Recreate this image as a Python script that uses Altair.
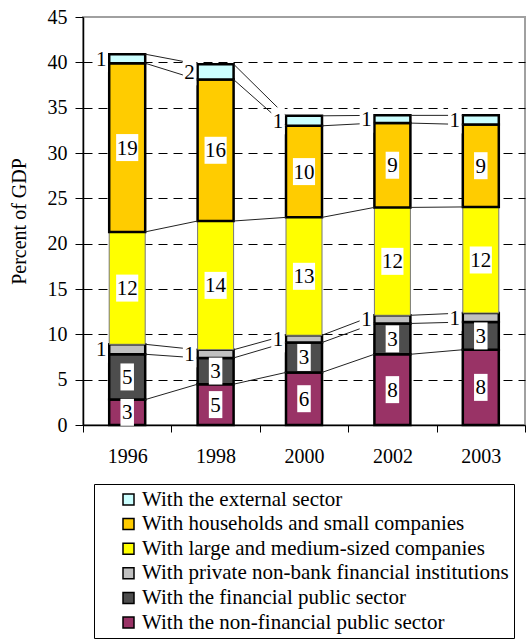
import altair as alt
import numpy as np
import pandas as pd

years = ["1996", "1998", "2000", "2002", "2003"]

# stacking order, bottom to top
series = [
    "With the non-financial public sector",
    "With the financial public sector",
    "With private non-bank financial institutions",
    "With large and medium-sized companies",
    "With households and small companies",
    "With the external sector",
]
colors = ["#993366", "#4d4d4d", "#c0c0c0", "#ffff00", "#ffcc00", "#ccffff"]

# percent of GDP, one list per series (same order as years)
nonfin_public = [2.8, 4.5, 5.8, 7.8, 8.3]
fin_public = [5.0, 2.9, 3.3, 3.4, 3.05]
private_nonbank = [1.1, 0.9, 0.8, 0.9, 1.0]
large_medium = [12.4, 14.2, 13.0, 11.9, 11.7]
households = [18.6, 15.6, 10.1, 9.3, 9.1]
external = [1.0, 1.7, 1.1, 0.85, 1.0]

values = [nonfin_public, fin_public, private_nonbank, large_medium, households, external]

# series whose value labels sit beside the bar instead of inside it
outside = [series[2], series[5]]

rows = []
for rank, (name, vals) in enumerate(zip(series, values)):
    for year, v in zip(years, vals):
        rows.append({"year": year, "series": name, "rank": rank, "value": v})
df = pd.DataFrame(rows)

# series lines: join the top of each series from one bar to the next
tops = np.cumsum(np.array(values), axis=0)
seg_rows = []
for i in range(len(years) - 1):
    for s, name in enumerate(series):
        seg_rows.append({
            "year_from": years[i], "year_to": years[i + 1],
            "top_from": float(tops[s, i]), "top_to": float(tops[s, i + 1]),
        })
segs = pd.DataFrame(seg_rows)

FONT = "'Liberation Serif', 'Times New Roman', Times, serif"
is_large = alt.datum.series == series[3]
is_outside = alt.FieldOneOfPredicate(field="series", oneOf=outside)

x_enc = alt.X(
    "year:N", sort=years, title=None,
    scale=alt.Scale(paddingInner=0, paddingOuter=0),
    axis=alt.Axis(
        tickBand="extent", labelAngle=0, labelFont=FONT, labelFontSize=20,
        labelColor="black", labelPadding=14, tickSize=7, tickColor="black",
        domainColor="black", domainWidth=1.5, labelBaseline="top",
    ),
)

base = (
    alt.Chart(df)
    .transform_stack(
        stack="value", groupby=["year"], as_=["v0", "v1"],
        sort=[alt.SortField("rank", order="ascending")],
    )
    .transform_calculate(
        mid="(datum.v0 + datum.v1) / 2",
        label="format(round(datum.value), 'd')",
    )
)

bars = base.mark_bar(size=36).encode(
    x=x_enc,
    y=alt.Y(
        "v0:Q",
        scale=alt.Scale(domain=[0, 45], nice=False),
        axis=alt.Axis(
            values=list(range(0, 46, 5)), title="Percent of GDP",
            titleFont=FONT, titleFontSize=20, titleFontWeight="normal",
            titleColor="black", titlePadding=18,
            labelFont=FONT, labelFontSize=20, labelColor="black",
            labelPadding=8, tickSize=8, tickColor="black",
            domainColor="black", domainWidth=1.5,
            grid=True, gridColor="black", gridDash=[9, 6],
            gridOpacity={"condition": {"test": "datum.value >= 45 || datum.value <= 0", "value": 0}, "value": 1},
        ),
    ),
    y2="v1:Q",
    color=alt.Color(
        "series:N",
        scale=alt.Scale(domain=series[::-1], range=colors[::-1]),
        legend=alt.Legend(
            orient="none", legendX=11, legendY=467, title=None,
            strokeColor="black", fillColor="white", padding=5,
            symbolType="square", symbolSize=121, symbolOffset=19,
            symbolStrokeColor="black", symbolStrokeWidth=1.5,
            symbolOpacity=1, labelFont=FONT, labelFontSize=21,
            labelColor="black", labelOffset=3, labelLimit=600,
            rowPadding=2.6, cornerRadius=0,
        ),
    ),
    stroke=alt.condition(is_large, alt.value("#777777"), alt.value("black")),
    strokeWidth=alt.condition(is_large, alt.value(1), alt.value(2.5)),
)

lines = alt.Chart(segs).mark_rule(
    color="#222222", strokeWidth=1, xOffset=18, x2Offset=-18
).encode(
    x=alt.X("year_from:N", sort=years),
    x2="year_to:N",
    y="top_from:Q",
    y2="top_to:Q",
)

WIDE = "M-0.82,-1H0.82V1H-0.82Z"
NARROW = "M-0.5,-1H0.5V1H-0.5Z"
box_shape = alt.condition("length(datum.label) > 1", alt.value(WIDE), alt.value(NARROW))

inside = base.transform_filter(~is_outside)
beside = base.transform_filter(is_outside)

box_in = inside.mark_point(filled=True, fill="white", opacity=1, size=729, strokeWidth=0).encode(
    x=alt.X("year:N", sort=years), y="mid:Q", shape=box_shape
)
box_out = beside.mark_point(filled=True, fill="white", opacity=1, size=729, strokeWidth=0, xOffset=-26).encode(
    x=alt.X("year:N", sort=years), y="mid:Q", shape=box_shape
)
text_in = inside.mark_text(font=FONT, fontSize=21, color="black", baseline="middle", dy=1).encode(
    x=alt.X("year:N", sort=years), y="mid:Q", text="label:N"
)
text_out = beside.mark_text(font=FONT, fontSize=21, color="black", baseline="middle", dy=1, dx=-26).encode(
    x=alt.X("year:N", sort=years), y="mid:Q", text="label:N"
)

chart = (
    alt.layer(bars, lines, box_in, box_out, text_in, text_out)
    .properties(
        width=442, height=408,
        padding={"left": 9, "top": 7, "right": 0, "bottom": 0},
        background="white",
    )
    .configure_view(stroke="#a0a0a0", strokeWidth=2)
)

chart.save("out.html", embed_options={"renderer": "svg", "actions": False})
